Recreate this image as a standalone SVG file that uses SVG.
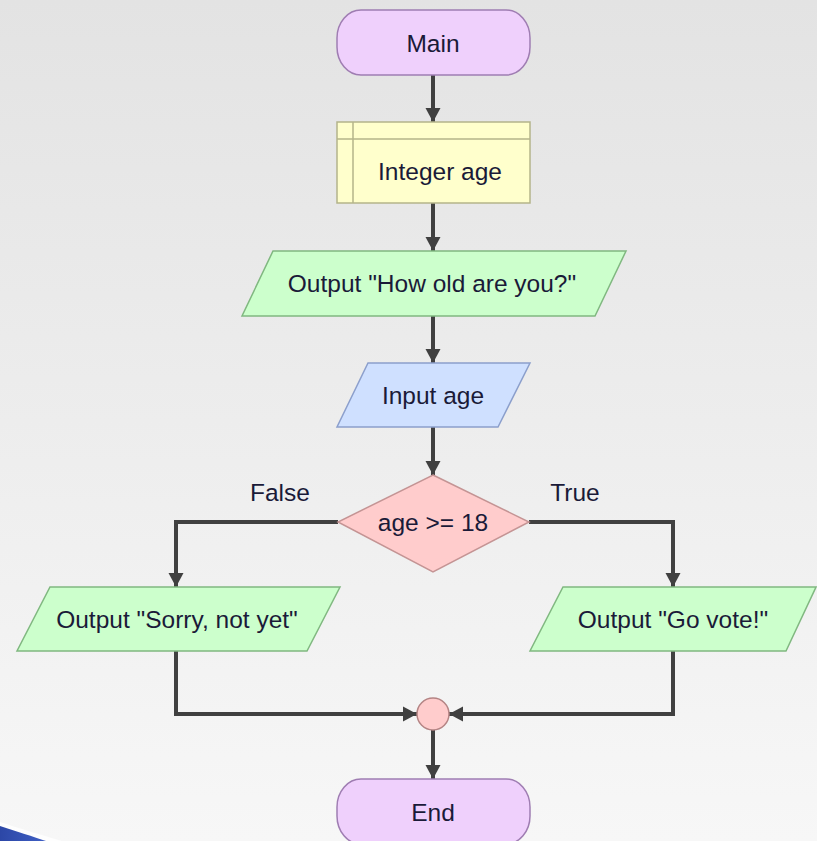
<svg xmlns="http://www.w3.org/2000/svg" width="817" height="841" viewBox="0 0 817 841">
  <defs>
    <linearGradient id="bg" x1="0" y1="0" x2="0" y2="1">
      <stop offset="0" stop-color="#e3e3e3"/>
      <stop offset="1" stop-color="#f7f7f7"/>
    </linearGradient>
    <linearGradient id="swoosh" x1="0" y1="0" x2="1" y2="0">
      <stop offset="0" stop-color="#2c47a6"/>
      <stop offset="1" stop-color="#3f5fc4"/>
    </linearGradient>
    <!-- arrowhead: tip sits at the end of the connector -->
    <marker id="arrow" markerUnits="userSpaceOnUse" markerWidth="16" markerHeight="16" viewBox="-15 -8 16 16" refX="0" refY="0" orient="auto">
      <path d="M0,0 L-14,-7.5 L-14,7.5 Z" fill="#404040"/>
    </marker>
    <style>
      .lbl { font-family: "Liberation Sans", Arial, sans-serif; font-size: 24.5px; fill: #1a1a38; text-anchor: middle; }
      .term { fill: #efd0fc; stroke: #9f7db2; stroke-width: 1.5; }
      .decl { fill: #ffffcc; stroke: #b4b48a; stroke-width: 1.5; }
      .out { fill: #ccffcc; stroke: #80b880; stroke-width: 1.5; }
      .inp { fill: #cfe0ff; stroke: #8c9fcc; stroke-width: 1.5; }
      .cond { fill: #ffcccc; stroke: #c49494; stroke-width: 1.5; }
      .conn { fill: none; stroke: #404040; stroke-width: 4; marker-end: url(#arrow); }
    </style>
  </defs>

  <!-- background -->
  <rect x="0" y="0" width="817" height="841" fill="url(#bg)"/>
  <path d="M0,822 C18,828 45,836 62,841 L0,841 Z" fill="#ffffff" opacity="0.8"/>
  <path d="M0,826 C16,831 34,837 46,841 L0,841 Z" fill="url(#swoosh)"/>

  <!-- connectors -->
  <g id="connectors">
    <path class="conn" d="M433,75 V122"/>
    <path class="conn" d="M433,203 V251"/>
    <path class="conn" d="M433,316 V363"/>
    <path class="conn" d="M433,427 V475"/>
    <path class="conn" d="M338,522 H176 V587"/>
    <path class="conn" d="M529,522 H673 V587"/>
    <path class="conn" d="M176,651 V714 H417"/>
    <path class="conn" d="M673,651 V714 H449"/>
    <path class="conn" d="M433,730 V779"/>
  </g>

  <!-- branch labels -->
  <text class="lbl" x="280" y="501">False</text>
  <text class="lbl" x="575" y="501">True</text>

  <g id="main">
    <rect class="term" x="337" y="10" width="193" height="65" rx="24" ry="28"/>
    <text class="lbl" x="433" y="52">Main</text>
  </g>

  <g id="declare-age">
    <rect class="decl" x="337" y="122" width="193" height="81"/>
    <line class="decl" x1="337" y1="139" x2="530" y2="139"/>
    <line class="decl" x1="353" y1="122" x2="353" y2="203"/>
    <text class="lbl" x="440" y="180">Integer age</text>
  </g>

  <g id="output-question">
    <polygon class="out" points="273,251 626,251 595,316 242,316"/>
    <text class="lbl" x="432" y="292">Output "How old are you?"</text>
  </g>

  <g id="input-age">
    <polygon class="inp" points="368,363 530,363 498,427 337,427"/>
    <text class="lbl" x="433" y="404">Input age</text>
  </g>

  <g id="decision">
    <polygon class="cond" points="433,475 529,522 433,572 338,522"/>
    <text class="lbl" x="433" y="531">age &gt;= 18</text>
  </g>

  <g id="output-sorry">
    <polygon class="out" points="50,587 340,587 307,651 17,651"/>
    <text class="lbl" x="177" y="628">Output "Sorry, not yet"</text>
  </g>

  <g id="output-vote">
    <polygon class="out" points="563,587 816,587 786,651 530,651"/>
    <text class="lbl" x="673" y="628">Output "Go vote!"</text>
  </g>

  <g id="merge">
    <circle cx="433" cy="714" r="16" fill="#ffcccc" stroke="#b48484" stroke-width="1.5"/>
  </g>

  <g id="end">
    <rect class="term" x="337" y="779" width="193" height="65" rx="24" ry="28"/>
    <text class="lbl" x="433" y="821">End</text>
  </g>
</svg>
